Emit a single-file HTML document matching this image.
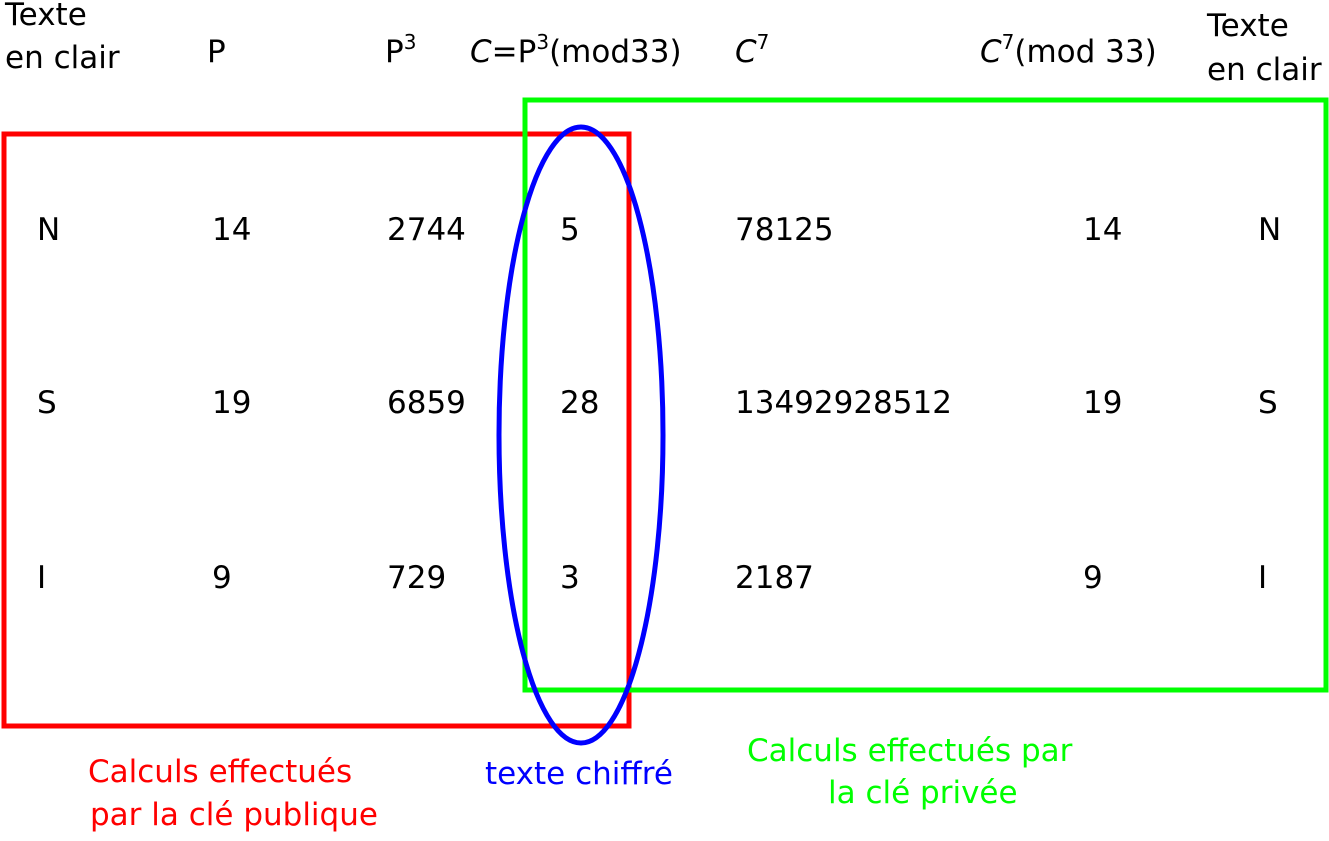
<!DOCTYPE html>
<html><head><meta charset="utf-8"><style>
html,body{margin:0;padding:0;background:#fff;width:1329px;height:841px;overflow:hidden}
svg text{font-family:"DejaVu Sans","Liberation Sans",sans-serif;font-size:31px;fill:#000}
</style></head><body>
<svg width="1329" height="841" xmlns="http://www.w3.org/2000/svg">
<g>
<text x="5" y="25">Texte</text>
<text x="5" y="68">en clair</text>
<text x="207" y="62">P</text>
<text x="385" y="62">P<tspan font-size="20" dy="-13">3</tspan></text>
<text x="470" y="62"><tspan font-style="italic">C</tspan>=P<tspan font-size="20" dy="-13">3</tspan><tspan dy="13">(mod33)</tspan></text>
<text x="735" y="62"><tspan font-style="italic">C</tspan><tspan font-size="20" dy="-13">7</tspan></text>
<text x="980" y="62"><tspan font-style="italic">C</tspan><tspan font-size="20" dy="-13">7</tspan><tspan dy="13">(mod 33)</tspan></text>
<text x="1207" y="36">Texte</text>
<text x="1207" y="80">en clair</text>
</g>
<g>
<text x="37" y="240">N</text><text x="212" y="240">14</text><text x="387" y="240">2744</text><text x="560" y="240">5</text><text x="735" y="240">78125</text><text x="1083" y="240">14</text><text x="1258" y="240">N</text>
</g>
<g>
<text x="37" y="413">S</text><text x="212" y="413">19</text><text x="387" y="413">6859</text><text x="560" y="413">28</text><text x="735" y="413">13492928512</text><text x="1083" y="413">19</text><text x="1258" y="413">S</text>
</g>
<g>
<text x="37" y="588">I</text><text x="212" y="588">9</text><text x="387" y="588">729</text><text x="560" y="588">3</text><text x="735" y="588">2187</text><text x="1083" y="588">9</text><text x="1258" y="588">I</text>
</g>
<rect x="4" y="134" width="625" height="592" fill="none" stroke="#f00" stroke-width="5"/>
<rect x="525" y="100" width="801" height="590" fill="none" stroke="#0f0" stroke-width="5"/>
<ellipse cx="581" cy="435" rx="82" ry="308" fill="none" stroke="#00f" stroke-width="5"/>
<text x="88" y="782" style="fill:#f00">Calculs effectués</text>
<text x="90" y="825" style="fill:#f00">par la clé publique</text>
<text x="485" y="784" style="fill:#00f">texte chiffré</text>
<text x="747" y="761" style="fill:#0f0">Calculs effectués par</text>
<text x="828" y="803" style="fill:#0f0">la clé privée</text>
</svg>
</body></html>
